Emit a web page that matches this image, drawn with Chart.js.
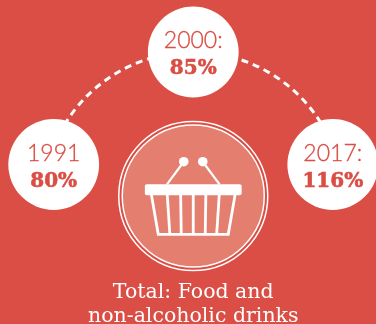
<!DOCTYPE html>
<html>
<head>
<meta charset="utf-8">
<title>Total: Food and non-alcoholic drinks</title>
<script src="https://cdn.jsdelivr.net/npm/chart.js@4/dist/chart.umd.min.js"></script>
<style>
    html, body { margin: 0; padding: 0; background: #da4e45; overflow: hidden; }
    canvas { display: block; }
</style>
</head>
<body>
<canvas id="priceChart" width="376" height="324"></canvas>
<script>
const categories = ['1991', '2000:', '2017:'];
const percentages = [80, 85, 116];
const titleLines = ['Total: Food and', 'non-alcoholic drinks'];

const RED = '#da4e45';
const WHITE = '#ffffff';

// the middle year sits one row above the other two
const topCategory = '2000:';
const rowOf = label => (label === topCategory ? 1 : 0);

// dashed arc through the three anchor points of the first dataset
const dashedArc = {
    id: 'dashedArc',
    beforeDatasetsDraw(chart) {
        const [left, top, right] = chart.getDatasetMeta(0).data;
        const half = (right.x - left.x) / 2;
        const sag = left.y - top.y;
        const radius = (half * half + sag * sag) / (2 * sag);
        const cx = (left.x + right.x) / 2;
        const cy = top.y + radius;
        const ctx = chart.ctx;
        ctx.save();
        ctx.strokeStyle = WHITE;
        ctx.lineWidth = 3;
        ctx.setLineDash([7, 5]);
        ctx.beginPath();
        ctx.arc(cx, cy, radius, Math.atan2(left.y - cy, left.x - cx), Math.atan2(right.y - cy, right.x - cx));
        ctx.stroke();
        ctx.restore();
    }
};

// draws the year and the percentage inside each white circle
const circleLabels = {
    id: 'circleLabels',
    afterDatasetsDraw(chart) {
        const ctx = chart.ctx;
        const points = chart.getDatasetMeta(1).data;
        ctx.save();
        ctx.textAlign = 'center';
        ctx.textBaseline = 'alphabetic';
        ctx.fillStyle = RED;
        ctx.strokeStyle = RED;
        points.forEach((point, i) => {
            ctx.font = '300 23px Lato, "Open Sans", sans-serif';
            ctx.lineWidth = 0.3;
            ctx.fillText(categories[i], point.x, point.y - 4);
            ctx.strokeText(categories[i], point.x, point.y - 4);
            ctx.font = 'bold 20px "DejaVu Serif", serif';
            ctx.lineWidth = 0.6;
            ctx.fillText(percentages[i] + '%', point.x, point.y + 22);
            ctx.strokeText(percentages[i] + '%', point.x, point.y + 22);
        });
        ctx.restore();
    }
};

// round badge with the shopping basket, below the middle circle
const basketBadge = {
    id: 'basketBadge',
    afterDatasetsDraw(chart) {
        const ctx = chart.ctx;
        const cx = chart.scales.x.getPixelForValue(1);
        const cy = chart.scales.y.getPixelForValue(-0.28);
        ctx.save();
        ctx.translate(cx, cy);

        ctx.fillStyle = '#e47f70';
        ctx.beginPath();
        ctx.arc(0, 0, 71, 0, Math.PI * 2);
        ctx.fill();

        ctx.strokeStyle = WHITE;
        ctx.lineWidth = 1.5;
        ctx.beginPath();
        ctx.arc(0, 0, 71, 0, Math.PI * 2);
        ctx.stroke();
        ctx.beginPath();
        ctx.arc(0, 0, 74.5, 0, Math.PI * 2);
        ctx.stroke();

        // handles
        ctx.lineWidth = 2.2;
        ctx.beginPath();
        ctx.moveTo(-9.5, -34.3);
        ctx.lineTo(-26.3, -11.7);
        ctx.moveTo(9.5, -34.3);
        ctx.lineTo(26.3, -11.7);
        ctx.stroke();
        ctx.fillStyle = WHITE;
        [-9.5, 9.5].forEach(x => {
            ctx.beginPath();
            ctx.arc(x, -34.3, 4.8, 0, Math.PI * 2);
            ctx.fill();
        });

        // rim
        ctx.beginPath();
        ctx.roundRect(-48.4, -11.7, 96.8, 11, 2);
        ctx.fill();

        // body and slats
        ctx.lineWidth = 2.8;
        ctx.beginPath();
        ctx.moveTo(-41.8, -1);
        ctx.lineTo(-35, 38.3);
        ctx.lineTo(35, 38.3);
        ctx.lineTo(41.8, -1);
        ctx.stroke();
        [[-26, -23.4], [-12.6, -12], [0, 0], [12.6, 12], [26, 23.4]].forEach(([top, bottom]) => {
            ctx.beginPath();
            ctx.moveTo(top, -1);
            ctx.lineTo(bottom, 38.3);
            ctx.stroke();
        });
        ctx.restore();
    }
};

const chart = new Chart(document.getElementById('priceChart'), {
    type: 'line',
    data: {
        labels: categories,
        datasets: [
            {
                // anchors for the arc, which is stroked by the dashedArc plugin
                data: categories.map(c => (c === topCategory ? 1 : 0.16)),
                showLine: false,
                pointRadius: 0,
                clip: false
            },
            {
                data: categories.map(rowOf),
                showLine: false,
                pointRadius: 45.4,
                pointHoverRadius: 45.4,
                pointBackgroundColor: WHITE,
                pointBorderWidth: 0,
                clip: false
            }
        ]
    },
    options: {
        responsive: false,
        animation: false,
        events: [],
        // the right circle runs off the edge, so no room is reserved for its radius
        layout: { autoPadding: false, padding: { left: 53.7, right: 43.2, top: 52, bottom: 0 } },
        scales: {
            x: { display: false },
            y: { display: false, min: -1, max: 1 }
        },
        plugins: {
            legend: { display: false },
            tooltip: { enabled: false },
            title: {
                display: true,
                position: 'bottom',
                text: titleLines,
                color: WHITE,
                font: { family: '"DejaVu Serif", serif', size: 20.5, weight: 'normal', lineHeight: 1.17 },
                padding: { top: 4, bottom: -5 }
            }
        }
    },
    plugins: [dashedArc, circleLabels, basketBadge]
});
</script>
</body>
</html>
